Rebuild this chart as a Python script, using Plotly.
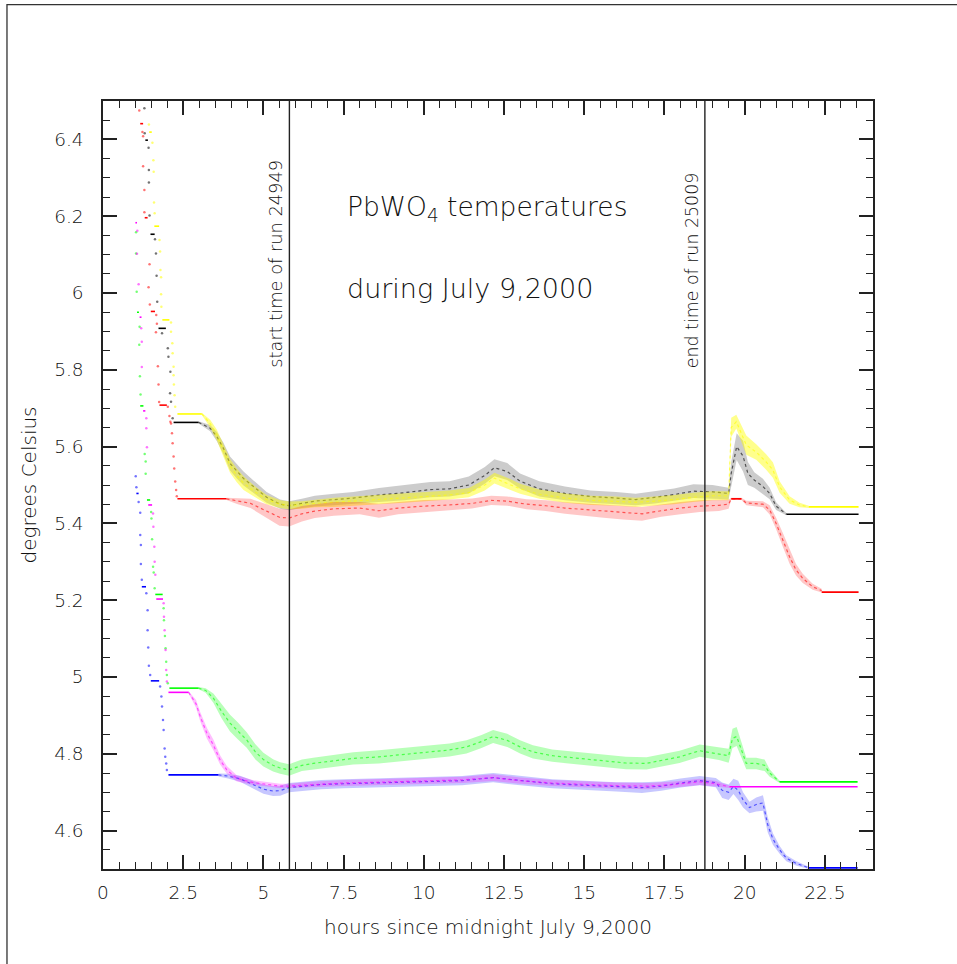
import plotly.graph_objects as go

# ---------------- data ----------------
hours_range = [0, 24]
temp_range = [4.5, 6.5]
run_start_hour = 5.81
run_end_hour = 18.76
run_label_bottom = 5.80

# black
black_plateau_start = [1.32, 1.48, 1.73, 2.20, 21.30]
black_plateau_end = [1.40, 1.61, 1.96, 2.98, 23.55]
black_plateau_level = [6.398, 6.153, 5.908, 5.663, 5.424]
black_dot_h = [1.29, 1.30, 1.42, 1.43, 1.43, 1.45, 1.62, 1.65, 1.67, 1.69, 1.84, 2.02, 2.04, 2.10, 2.09, 2.12, 2.17]
black_dot_t = [6.481, 6.416, 6.378, 6.320, 6.288, 6.202, 6.140, 6.103, 6.045, 5.977, 5.895, 5.856, 5.834, 5.795, 5.739, 5.717, 5.674]
black_band_h = [2.98, 3.34, 3.55, 3.75, 3.96, 4.17, 4.38, 4.69, 5.10, 5.52, 5.80, 6.20, 6.60, 7.20, 7.80, 8.60, 9.40, 10.20, 10.80, 11.40, 11.90, 12.20, 12.60, 13.00, 13.60, 14.40, 15.20, 16.00, 16.60, 17.20, 17.80, 18.40, 19.00, 19.50, 19.58, 19.75, 19.95, 20.10, 20.30, 20.57, 20.78, 20.98, 21.30]
black_band_mid = [5.663, 5.648, 5.626, 5.596, 5.556, 5.535, 5.517, 5.496, 5.468, 5.450, 5.446, 5.452, 5.458, 5.462, 5.466, 5.474, 5.480, 5.488, 5.490, 5.500, 5.525, 5.545, 5.535, 5.510, 5.490, 5.478, 5.470, 5.466, 5.462, 5.468, 5.475, 5.484, 5.482, 5.478, 5.530, 5.600, 5.575, 5.530, 5.513, 5.496, 5.478, 5.445, 5.424]
black_band_half = [0.003, 0.008, 0.012, 0.015, 0.018, 0.018, 0.018, 0.016, 0.014, 0.012, 0.012, 0.012, 0.014, 0.015, 0.016, 0.018, 0.020, 0.020, 0.020, 0.022, 0.022, 0.022, 0.022, 0.020, 0.020, 0.018, 0.016, 0.016, 0.015, 0.016, 0.016, 0.018, 0.018, 0.015, 0.030, 0.035, 0.040, 0.030, 0.020, 0.020, 0.015, 0.010, 0.003]

# yellow
yellow_plateau_start = [1.44, 1.60, 1.85, 2.32, 22.00]
yellow_plateau_end = [1.52, 1.75, 2.07, 3.08, 23.55]
yellow_plateau_level = [6.419, 6.174, 5.930, 5.685, 5.443]
yellow_dot_h = [1.43, 1.54, 1.57, 1.58, 1.59, 1.61, 1.76, 1.78, 1.79, 1.81, 1.81, 1.82, 2.12, 2.12, 2.16, 2.17, 2.20, 2.20, 2.21, 2.23, 2.25]
yellow_dot_t = [6.439, 6.391, 6.346, 6.316, 6.236, 6.208, 6.138, 6.108, 6.060, 6.041, 5.997, 5.964, 5.923, 5.899, 5.869, 5.843, 5.808, 5.786, 5.762, 5.734, 5.704]
yellow_band_h = [3.08, 3.34, 3.55, 3.75, 3.96, 4.17, 4.38, 4.69, 5.10, 5.52, 5.80, 6.20, 6.60, 7.20, 7.80, 8.60, 9.40, 10.20, 10.80, 11.40, 11.90, 12.20, 12.60, 13.00, 13.60, 14.40, 15.20, 16.00, 16.60, 17.20, 17.80, 18.40, 19.00, 19.50, 19.58, 19.74, 20.05, 20.36, 20.67, 20.88, 21.09, 21.40, 21.71, 22.00]
yellow_band_mid = [5.685, 5.660, 5.630, 5.590, 5.550, 5.525, 5.505, 5.485, 5.462, 5.450, 5.447, 5.448, 5.452, 5.455, 5.458, 5.462, 5.466, 5.470, 5.474, 5.480, 5.500, 5.518, 5.505, 5.490, 5.476, 5.466, 5.460, 5.458, 5.455, 5.458, 5.462, 5.468, 5.472, 5.472, 5.650, 5.665, 5.604, 5.586, 5.560, 5.539, 5.495, 5.461, 5.448, 5.443]
yellow_band_half = [0.003, 0.010, 0.014, 0.016, 0.018, 0.018, 0.018, 0.015, 0.012, 0.010, 0.010, 0.010, 0.010, 0.012, 0.012, 0.012, 0.012, 0.012, 0.012, 0.012, 0.014, 0.014, 0.014, 0.013, 0.012, 0.012, 0.012, 0.012, 0.012, 0.012, 0.012, 0.012, 0.012, 0.012, 0.025, 0.018, 0.025, 0.020, 0.020, 0.020, 0.015, 0.010, 0.006, 0.003]

# red
red_plateau_start = [1.16, 1.30, 1.49, 1.76, 2.32, 19.58, 22.40]
red_plateau_end = [1.25, 1.39, 1.62, 1.99, 3.85, 19.90, 23.55]
red_plateau_level = [6.441, 6.196, 5.952, 5.708, 5.464, 5.464, 5.221]
red_dot_h = [1.13, 1.23, 1.25, 1.25, 1.29, 1.29, 1.45, 1.42, 1.46, 1.66, 1.68, 1.65, 1.71, 1.73, 1.75, 2.02, 2.07, 2.10, 2.12, 2.15, 2.17, 2.20, 2.22, 2.25, 2.28, 2.30]
red_dot_t = [6.475, 6.419, 6.408, 6.330, 6.268, 6.210, 6.075, 6.015, 5.970, 5.943, 5.920, 5.898, 5.809, 5.762, 5.716, 5.704, 5.680, 5.665, 5.660, 5.635, 5.609, 5.574, 5.543, 5.509, 5.487, 5.471]
red_band_h = [3.85, 4.20, 4.60, 5.10, 5.50, 5.80, 6.20, 6.60, 7.20, 8.00, 8.60, 9.20, 10.00, 10.80, 11.50, 12.10, 12.60, 13.20, 13.80, 14.40, 15.00, 15.60, 16.20, 16.80, 17.40, 18.00, 18.60, 19.20, 19.50, 19.58, 19.90, 20.05, 20.57, 20.78, 20.98, 21.19, 21.40, 21.60, 21.81, 22.12, 22.40]
red_band_mid = [5.464, 5.458, 5.452, 5.432, 5.416, 5.414, 5.425, 5.432, 5.438, 5.440, 5.433, 5.440, 5.445, 5.448, 5.452, 5.460, 5.458, 5.450, 5.446, 5.440, 5.436, 5.432, 5.428, 5.425, 5.433, 5.440, 5.445, 5.447, 5.450, 5.464, 5.464, 5.453, 5.450, 5.435, 5.400, 5.357, 5.313, 5.279, 5.257, 5.235, 5.225]
red_band_half = [0.003, 0.008, 0.012, 0.018, 0.022, 0.022, 0.020, 0.018, 0.018, 0.016, 0.018, 0.016, 0.016, 0.014, 0.013, 0.012, 0.012, 0.013, 0.014, 0.015, 0.016, 0.017, 0.018, 0.018, 0.016, 0.016, 0.015, 0.015, 0.012, 0.003, 0.003, 0.006, 0.008, 0.012, 0.015, 0.018, 0.018, 0.015, 0.012, 0.008, 0.005]

# green
green_plateau_start = [1.06, 1.16, 1.37, 1.63, 2.07, 21.09]
green_plateau_end = [1.12, 1.26, 1.47, 1.86, 2.98, 23.52]
green_plateau_level = [5.950, 5.706, 5.461, 5.215, 4.971, 4.727]
green_dot_h = [1.03, 1.03, 1.05, 1.14, 1.13, 1.15, 1.17, 1.30, 1.33, 1.33, 1.50, 1.51, 1.53, 1.56, 1.58, 1.61, 1.89, 1.90, 1.93, 1.95, 1.97, 1.99, 2.02]
green_dot_t = [6.158, 6.103, 6.003, 5.912, 5.865, 5.783, 5.736, 5.581, 5.561, 5.529, 5.430, 5.413, 5.359, 5.287, 5.272, 5.231, 5.179, 5.148, 5.107, 5.075, 5.040, 5.005, 4.984]
green_band_h = [2.98, 3.20, 3.44, 3.70, 3.96, 4.20, 4.48, 4.75, 5.00, 5.30, 5.52, 5.80, 6.20, 6.55, 7.20, 7.80, 8.60, 9.40, 10.20, 10.80, 11.33, 11.80, 12.16, 12.60, 13.00, 13.40, 14.00, 14.86, 15.60, 16.30, 16.94, 17.50, 17.97, 18.60, 19.20, 19.50, 19.62, 19.75, 19.90, 20.05, 20.36, 20.62, 20.78, 21.09]
green_band_mid = [4.971, 4.965, 4.945, 4.910, 4.880, 4.860, 4.836, 4.805, 4.785, 4.770, 4.763, 4.758, 4.770, 4.775, 4.782, 4.788, 4.792, 4.798, 4.805, 4.810, 4.818, 4.832, 4.845, 4.835, 4.818, 4.805, 4.795, 4.788, 4.782, 4.776, 4.775, 4.785, 4.792, 4.808, 4.800, 4.795, 4.840, 4.845, 4.810, 4.775, 4.775, 4.770, 4.750, 4.727]
green_band_half = [0.003, 0.006, 0.012, 0.018, 0.022, 0.022, 0.020, 0.020, 0.018, 0.016, 0.015, 0.015, 0.015, 0.015, 0.016, 0.016, 0.017, 0.017, 0.017, 0.017, 0.017, 0.017, 0.017, 0.017, 0.017, 0.017, 0.016, 0.016, 0.016, 0.016, 0.016, 0.016, 0.016, 0.016, 0.016, 0.018, 0.025, 0.025, 0.020, 0.015, 0.015, 0.015, 0.010, 0.003]

# magenta
magenta_plateau_start = [1.01, 1.14, 1.25, 1.41, 1.66, 2.04, 19.53]
magenta_plateau_end = [1.06, 1.20, 1.32, 1.53, 1.87, 2.67, 23.52]
magenta_plateau_level = [6.183, 5.937, 5.693, 5.448, 5.203, 4.960, 4.714]
magenta_dot_h = [1.07, 1.06, 1.11, 1.19, 1.21, 1.21, 1.35, 1.35, 1.37, 1.56, 1.57, 1.60, 1.61, 1.63, 1.89, 1.90, 1.92, 1.95, 1.97, 1.99]
magenta_dot_t = [6.162, 6.102, 6.023, 5.908, 5.873, 5.807, 5.674, 5.648, 5.598, 5.426, 5.391, 5.339, 5.300, 5.266, 5.192, 5.157, 5.122, 5.070, 5.018, 4.988]
magenta_band_h = [2.67, 2.90, 3.03, 3.24, 3.44, 3.65, 3.86, 4.17, 4.69, 5.20, 5.52, 5.80, 6.50, 7.50, 8.60, 10.00, 11.20, 12.16, 13.00, 14.00, 15.00, 16.00, 17.00, 17.80, 18.60, 19.10, 19.53]
magenta_band_mid = [4.960, 4.930, 4.897, 4.853, 4.823, 4.784, 4.758, 4.736, 4.725, 4.720, 4.716, 4.716, 4.720, 4.724, 4.726, 4.730, 4.732, 4.738, 4.730, 4.724, 4.720, 4.717, 4.716, 4.720, 4.727, 4.722, 4.714]
magenta_band_half = [0.003, 0.010, 0.012, 0.014, 0.014, 0.012, 0.010, 0.008, 0.006, 0.006, 0.006, 0.006, 0.007, 0.008, 0.008, 0.008, 0.008, 0.009, 0.008, 0.008, 0.008, 0.008, 0.008, 0.008, 0.008, 0.007, 0.003]

# blue
blue_plateau_start = [1.04, 1.21, 1.49, 2.04, 22.00]
blue_plateau_end = [1.11, 1.34, 1.75, 3.60, 23.52]
blue_plateau_level = [5.478, 5.235, 4.990, 4.745, 4.503]
blue_dot_h = [1.02, 1.04, 1.11, 1.16, 1.16, 1.18, 1.18, 1.21, 1.35, 1.39, 1.39, 1.41, 1.43, 1.47, 1.78, 1.82, 1.84, 1.87, 1.89, 1.92, 1.94, 1.97, 1.99]
blue_dot_t = [5.523, 5.494, 5.456, 5.428, 5.370, 5.344, 5.294, 5.253, 5.218, 5.174, 5.122, 5.077, 5.029, 5.005, 4.975, 4.949, 4.923, 4.888, 4.862, 4.814, 4.792, 4.775, 4.758]
blue_band_h = [3.60, 3.90, 4.27, 4.60, 5.00, 5.30, 5.52, 5.80, 6.20, 6.80, 7.50, 8.60, 10.00, 11.20, 12.16, 13.00, 14.00, 15.00, 16.00, 16.80, 17.40, 18.00, 18.60, 19.10, 19.30, 19.50, 19.65, 19.80, 19.95, 20.15, 20.36, 20.57, 20.72, 20.88, 21.09, 21.30, 21.60, 22.00]
blue_band_mid = [4.745, 4.742, 4.735, 4.722, 4.708, 4.703, 4.704, 4.712, 4.716, 4.720, 4.722, 4.724, 4.728, 4.730, 4.738, 4.730, 4.722, 4.718, 4.714, 4.712, 4.716, 4.724, 4.730, 4.725, 4.705, 4.700, 4.715, 4.705, 4.680, 4.660, 4.668, 4.672, 4.615, 4.578, 4.550, 4.528, 4.515, 4.503]
blue_band_half = [0.004, 0.006, 0.008, 0.010, 0.012, 0.013, 0.013, 0.012, 0.012, 0.012, 0.012, 0.012, 0.012, 0.012, 0.012, 0.012, 0.012, 0.012, 0.012, 0.014, 0.012, 0.012, 0.012, 0.012, 0.020, 0.020, 0.020, 0.025, 0.020, 0.015, 0.018, 0.020, 0.020, 0.015, 0.010, 0.008, 0.006, 0.003]

# ---------------- styles ----------------
series = [
    ("black", (0, 0, 0), 0.20, black_plateau_start, black_plateau_end, black_plateau_level,
     black_dot_h, black_dot_t, black_band_h, black_band_mid, black_band_half),
    ("yellow", (255, 255, 0), 0.45, yellow_plateau_start, yellow_plateau_end, yellow_plateau_level,
     yellow_dot_h, yellow_dot_t, yellow_band_h, yellow_band_mid, yellow_band_half),
    ("red", (255, 0, 0), 0.22, red_plateau_start, red_plateau_end, red_plateau_level,
     red_dot_h, red_dot_t, red_band_h, red_band_mid, red_band_half),
    ("green", (0, 255, 0), 0.28, green_plateau_start, green_plateau_end, green_plateau_level,
     green_dot_h, green_dot_t, green_band_h, green_band_mid, green_band_half),
    ("blue", (0, 0, 255), 0.22, blue_plateau_start, blue_plateau_end, blue_plateau_level,
     blue_dot_h, blue_dot_t, blue_band_h, blue_band_mid, blue_band_half),
    ("magenta", (255, 0, 255), 0.25, magenta_plateau_start, magenta_plateau_end, magenta_plateau_level,
     magenta_dot_h, magenta_dot_t, magenta_band_h, magenta_band_mid, magenta_band_half),
]

def rgba(c, a):
    return "rgba(%d,%d,%d,%.3f)" % (c[0], c[1], c[2], a)

fig = go.Figure()
for name, col, alpha, ps, pe, pl, dh, dt, bh, bm, bw in series:
    assert len(ps) == len(pe) == len(pl), name
    assert len(dh) == len(dt), name
    assert len(bh) == len(bm) == len(bw), name
    upper = [m + w for m, w in zip(bm, bw)]
    lower = [m - w for m, w in zip(bm, bw)]
    fig.add_trace(go.Scatter(
        x=bh + bh[::-1], y=upper + lower[::-1], mode="lines", fill="toself",
        fillcolor=rgba(col, alpha), line=dict(width=0), hoverinfo="skip", showlegend=False))
    fig.add_trace(go.Scatter(
        x=bh, y=bm, mode="lines", line=dict(color=rgba(col, 0.6), width=1.2, dash="dot"),
        hoverinfo="skip", showlegend=False))
    px, py = [], []
    for a, b, lv in zip(ps, pe, pl):
        px += [a, b, None]
        py += [lv, lv, None]
    fig.add_trace(go.Scatter(x=px, y=py, mode="lines", line=dict(color=rgba(col, 1), width=1.6),
                             hoverinfo="skip", showlegend=False))
    fig.add_trace(go.Scatter(x=dh, y=dt, mode="markers",
                             marker=dict(color=rgba(col, 0.55), size=2.5, line=dict(width=0)),
                             hoverinfo="skip", showlegend=False))

# run start / end lines
for hx in (run_start_hour, run_end_hour):
    fig.add_shape(type="line", xref="x", yref="y", x0=hx, x1=hx, y0=temp_range[0], y1=temp_range[1],
                  line=dict(color="#222", width=1.4))

FONT = "DejaVu Sans"
TXT = "#111"
W = 300
fig.add_annotation(x=run_start_hour, y=run_label_bottom, xref="x", yref="y", text="start time of run 24949",
                   textangle=-90, xanchor="right", yanchor="bottom", xshift=-1, showarrow=False,
                   font=dict(family=FONT, size=17.8, color=TXT, weight=W))
fig.add_annotation(x=run_end_hour, y=run_label_bottom, xref="x", yref="y", text="end time of run 25009",
                   textangle=-90, xanchor="right", yanchor="bottom", xshift=-1, showarrow=False,
                   font=dict(family=FONT, size=17.4, color=TXT, weight=W))
fig.add_annotation(x=7.54, y=6.219, xref="x", yref="y", text="PbWO<sub>4</sub> temperatures",
                   xanchor="left", yanchor="middle", showarrow=False,
                   font=dict(family=FONT, size=26.5, color=TXT, weight=W))
fig.add_annotation(x=7.54, y=6.013, xref="x", yref="y", text="during July 9,2000",
                   xanchor="left", yanchor="middle", showarrow=False,
                   font=dict(family=FONT, size=27, color=TXT, weight=W))

# page border
fig.add_shape(type="rect", xref="paper", yref="paper", x0=-0.1247, x1=1.3, y0=-0.3, y1=1.1255,
              line=dict(color="#333", width=1.3), fillcolor="rgba(0,0,0,0)", layer="below")

axis_common = dict(showline=True, linewidth=1.5, linecolor="#222", mirror="allticks",
                   ticks="inside", ticklen=14, tickwidth=1.5, tickcolor="#222",
                   showgrid=False, zeroline=False,
                   tickfont=dict(family=FONT, size=18.5, color=TXT, weight=W))
fig.update_xaxes(range=hours_range, tick0=0, dtick=2.5,
                 minor=dict(dtick=0.5, ticklen=7, tickwidth=1.2, tickcolor="#222", ticks="inside", showgrid=False),
                 title=dict(text="hours since midnight July 9,2000", font=dict(family=FONT, size=20, color=TXT, weight=W), standoff=18),
                 ticklabelstandoff=6, **axis_common)
fig.update_yaxes(range=temp_range, tick0=4.6, dtick=0.2,
                 minor=dict(dtick=0.05, ticklen=7, tickwidth=1.2, tickcolor="#222", ticks="inside", showgrid=False),
                 title=dict(text="degrees Celsius", font=dict(family=FONT, size=20, color=TXT, weight=W), standoff=12),
                 ticklabelstandoff=14, **axis_common)

fig.update_layout(width=957, height=964, margin=dict(l=103, r=84, t=101, b=95, autoexpand=False),
                  paper_bgcolor="white", plot_bgcolor="white", showlegend=False, hovermode=False)

fig.write_html("out.html")
